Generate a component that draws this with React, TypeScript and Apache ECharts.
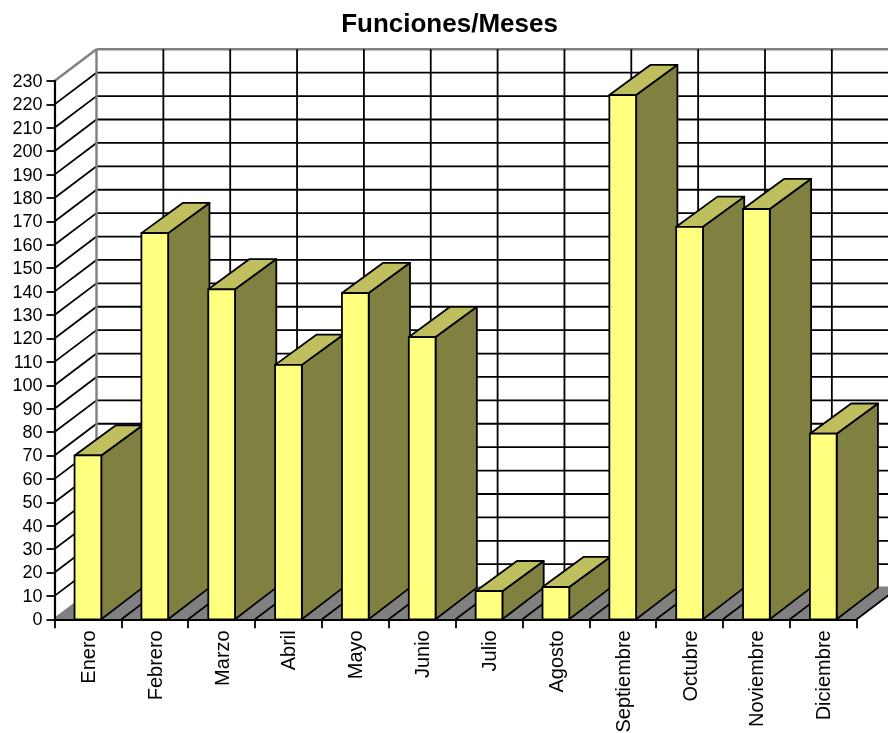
import React, { useEffect, useRef } from "react";
import * as echarts from "echarts";

const categories = ["Enero", "Febrero", "Marzo", "Abril", "Mayo", "Junio", "Julio", "Agosto", "Septiembre", "Octubre", "Noviembre", "Diciembre"];
const values = [70, 165, 141, 108.7, 139.4, 120.6, 12, 13.8, 224, 167.7, 175.3, 79.3];
const valueTicks = [0, 10, 20, 30, 40, 50, 60, 70, 80, 90, 100, 110, 120, 130, 140, 150, 160, 170, 180, 190, 200, 210, 220, 230];
const chartTitle = "Funciones/Meses";

const FONT = "'Liberation Sans', Arial, sans-serif";
const WALL_DX = 42;
const WALL_DY = 31.7;
const BAR_DX = 41.3;
const BAR_DY = 31.7;
const BAR_TOP_DY = 30.2;
const BAR_RATIO = 0.4;
const GREY = "#808080";
const LW = 1.8;

function line(x1: number, y1: number, x2: number, y2: number, stroke: string, width = LW) {
  return { type: "line", shape: { x1, y1, x2, y2 }, style: { stroke, lineWidth: width } };
}

function renderWalls(params: any, api: any) {
  const cs = params.coordSys;
  const left = cs.x;
  const right = cs.x + cs.width;
  const bottom = cs.y + cs.height;
  const top = cs.y;
  const band = cs.width / categories.length;
  const children: any[] = [];
  children.push({
    type: "polygon",
    shape: { points: [[left, bottom], [right, bottom], [right + WALL_DX, bottom - WALL_DY], [left + WALL_DX, bottom - WALL_DY]] },
    style: { fill: GREY, stroke: GREY, lineWidth: 1 },
  });
  valueTicks.forEach((v, i) => {
    const y = api.coord([0, v])[1];
    const edge = i === 0 || i === valueTicks.length - 1;
    const c = edge ? GREY : "#000";
    const w = edge ? 2.4 : LW;
    children.push(line(left, y, left + WALL_DX, y - WALL_DY, c, w));
    children.push(line(left + WALL_DX, y - WALL_DY, right + WALL_DX, y - WALL_DY, c, w));
  });
  for (let i = 0; i <= categories.length; i++) {
    const x = left + i * band;
    children.push(line(x + WALL_DX, top - WALL_DY, x + WALL_DX, bottom - WALL_DY, i === 0 ? GREY : "#000", i === 0 ? 2.4 : LW));
    children.push(line(x, bottom, x + WALL_DX, bottom - WALL_DY, i === 0 ? GREY : "#000", i === 0 ? 2.4 : LW));
  }
  return { type: "group", children };
}

function renderBar(params: any, api: any) {
  const p = api.coord([api.value(0), api.value(1)]);
  const base = api.coord([api.value(0), 0]);
  const w = api.size([1, 0])[0] * BAR_RATIO;
  const x0 = p[0] - w / 2;
  const x1 = p[0] + w / 2;
  const yT = p[1];
  const yB = base[1];
  const outline = { stroke: "#000", lineWidth: LW, lineJoin: "round" };
  return {
    type: "group",
    children: [
      {
        type: "polygon",
        shape: { points: [[x1, yT], [x1 + BAR_DX, yT - BAR_TOP_DY], [x1 + BAR_DX, yB - BAR_DY], [x1, yB]] },
        style: { fill: "#808040", ...outline },
      },
      {
        type: "polygon",
        shape: { points: [[x0, yT], [x0 + BAR_DX, yT - BAR_TOP_DY], [x1 + BAR_DX, yT - BAR_TOP_DY], [x1, yT]] },
        style: { fill: "#BFBF60", ...outline },
      },
      {
        type: "polygon",
        shape: { points: [[x0, yT], [x1, yT], [x1, yB], [x0, yB]] },
        style: { fill: "#FFFF80", ...outline },
      },
    ],
  };
}

export default function App() {
  const ref = useRef<HTMLDivElement>(null);
  useEffect(() => {
    if (!ref.current) return;
    const chart = echarts.init(ref.current, undefined, { renderer: "svg" });
    chart.setOption({
      animation: false,
      title: {
        text: chartTitle,
        left: 444.5,
        top: 5,
        textAlign: "center",
        textStyle: { fontFamily: FONT, fontSize: 26, fontWeight: "bold", color: "#000" },
      },
      grid: { left: 54.5, right: 31.3, top: 81, bottom: 113.7, outerBoundsMode: "none", containLabel: false },
      xAxis: {
        type: "category",
        data: categories,
        z: 5,
        axisLine: { lineStyle: { color: "#000", width: 2.2 } },
        axisTick: { show: true, length: 9, lineStyle: { color: "#000", width: 1.8 } },
        axisLabel: { interval: 0, rotate: 90, margin: 11, padding: [0, 0, 3, 0], fontFamily: FONT, fontSize: 20, color: "#000" },
      },
      yAxis: {
        type: "value",
        min: 0,
        max: 230,
        interval: 10,
        z: 5,
        splitLine: { show: false },
        axisLine: { show: true, lineStyle: { color: "#000", width: 2.2 } },
        axisTick: { show: true, length: 8, lineStyle: { color: "#000", width: 1.8 } },
        axisLabel: { margin: 12, fontFamily: FONT, fontSize: 18, color: "#000" },
      },
      series: [
        { type: "custom", name: "walls", silent: true, z: 1, data: [[0, 0]], renderItem: renderWalls },
        {
          type: "custom",
          name: "Funciones",
          z: 2,
          data: values.map((v, i) => [i, v]),
          encode: { x: 0, y: 1 },
          renderItem: renderBar,
        },
      ],
    });
    return () => chart.dispose();
  }, []);
  return <div ref={ref} style={{ position: "fixed", left: 0, top: 0, width: 888, height: 733 }} />;
}
